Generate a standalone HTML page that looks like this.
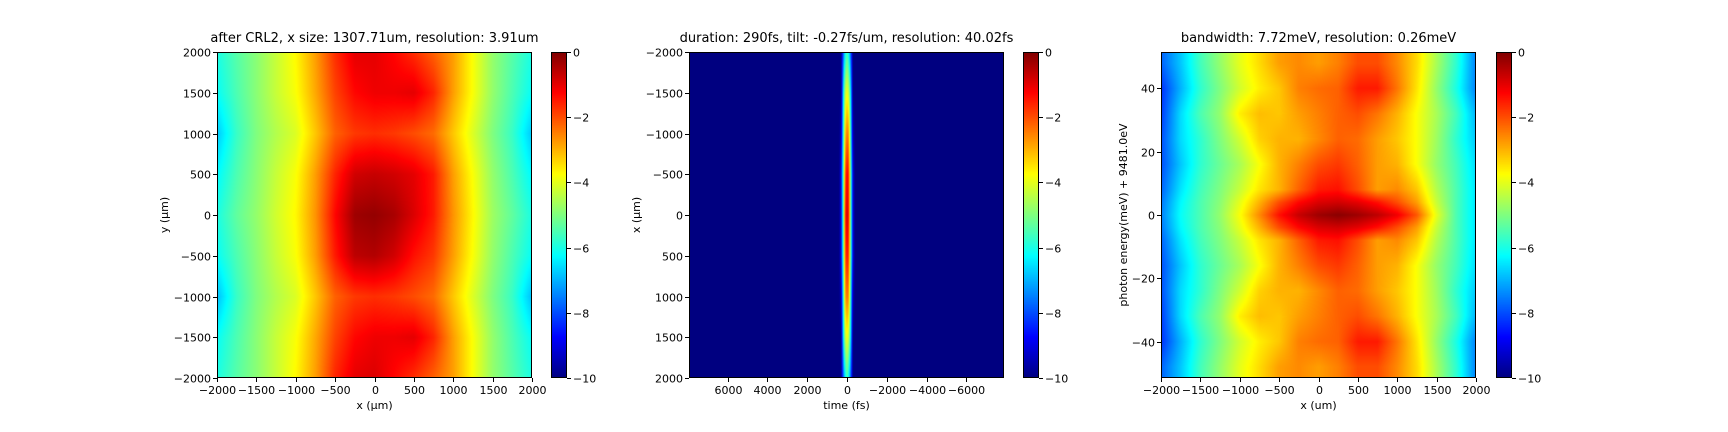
<!DOCTYPE html>
<html><head><meta charset="utf-8">
<style>
html,body{margin:0;padding:0;background:#fff;}
#wrap{position:relative;width:1728px;height:432px;overflow:hidden;background:#fff;font-family:"DejaVu Sans","Liberation Sans",sans-serif;}
canvas{position:absolute;}
svg{position:absolute;left:0;top:0;}
</style></head>
<body>
<div id="wrap">
<canvas id="c1"></canvas>
<canvas id="c2"></canvas>
<canvas id="c3"></canvas>
<canvas id="cb1"></canvas>
<canvas id="cb2"></canvas>
<canvas id="cb3"></canvas>
<svg id="ov" width="1728" height="432"></svg>
</div>
<script>
// ---------- Panel 1 data: y rows (um), x cols (um), log intensity ----------
const p1Cols=[-2000,-1750,-1500,-1250,-1000,-750,-500,-250,0,250,500,750,1000,1250,1500,1750,2000];
const p1Rows=[2000,1500,1000,500,0,-500,-1000,-1500,-2000];
const p1Vals=[
[-6.0,-5.4,-4.9,-4.3,-3.7,-2.8,-1.7,-1.0,-1.0,-1.3,-1.7,-2.2,-2.8,-3.8,-4.8,-5.4,-6.0],
[-6.2,-5.5,-4.9,-4.3,-3.8,-2.9,-1.9,-1.3,-1.1,-1.1,-1.0,-1.6,-2.8,-3.8,-4.8,-5.5,-6.2],
[-6.8,-5.7,-5.0,-4.5,-4.1,-3.2,-2.2,-1.8,-1.7,-1.8,-2.0,-2.3,-3.2,-4.1,-5.0,-5.7,-6.8],
[-6.3,-5.5,-4.9,-4.3,-3.8,-2.8,-1.6,-0.8,-0.7,-0.8,-1.0,-1.5,-2.8,-3.8,-4.8,-5.5,-6.3],
[-6.0,-5.3,-4.8,-4.2,-3.7,-2.7,-1.3,-0.3,-0.2,-0.4,-0.9,-1.5,-2.7,-3.7,-4.7,-5.3,-6.0],
[-6.2,-5.5,-4.9,-4.3,-3.8,-2.8,-1.5,-0.6,-0.5,-0.8,-1.4,-1.8,-2.8,-3.8,-4.8,-5.5,-6.2],
[-6.9,-5.7,-5.0,-4.5,-4.1,-3.2,-2.2,-1.8,-1.7,-1.8,-2.0,-2.3,-3.2,-4.1,-5.0,-5.7,-6.9],
[-6.2,-5.5,-4.9,-4.3,-3.8,-2.9,-1.9,-1.3,-1.1,-1.1,-1.0,-1.6,-2.8,-3.8,-4.8,-5.5,-6.2],
[-6.0,-5.4,-4.9,-4.3,-3.7,-2.8,-1.6,-1.0,-0.9,-1.3,-1.7,-2.2,-2.8,-3.8,-4.8,-5.4,-6.0]];
const p1XTicks=[-2000,-1500,-1000,-500,0,500,1000,1500,2000];
const p1YTicks=[2000,1500,1000,500,0,-500,-1000,-1500,-2000];

// ---------- Panel 2 data: time cols (fs), x rows (um) ----------
const p2Cols=[400,300,200,100,0,-100,-200,-300,-400];
const p2Rows=[-2000,-1500,-1000,-500,0,500,1000,1500,2000];
const p2Vals=[
[-10,-10,-8.0,-6.5,-5.5,-6.5,-8.0,-10,-10],
[-10,-10,-7.0,-4.5,-3.8,-4.5,-7.0,-10,-10],
[-10,-9.5,-6.5,-3.5,-2.3,-3.0,-6.5,-9.5,-10],
[-10,-9,-6.0,-2.5,-1.0,-2.0,-6.0,-9,-10],
[-10,-9,-6.0,-2.0,-0.6,-1.8,-6.0,-9,-10],
[-10,-9,-6.0,-2.5,-1.2,-2.2,-6.0,-9,-10],
[-10,-9.5,-6.5,-3.2,-2.2,-3.0,-6.5,-9.5,-10],
[-10,-10,-7.0,-4.5,-3.8,-4.5,-7.0,-10,-10],
[-10,-10,-8.0,-6.5,-5.5,-6.5,-8.0,-10,-10]];
const p2XTicks=[6000,4000,2000,0,-2000,-4000,-6000];
const p2YTicks=[-2000,-1500,-1000,-500,0,500,1000,1500,2000];

// ---------- Panel 3 data: x cols (um), energy rows (meV) ----------
const p3Cols=[-2000,-1750,-1500,-1250,-1000,-750,-500,-250,0,250,500,750,1000,1250,1500,1750,2000];
const p3Rows=[48,40,32,24,16,8,4,0,-4,-8,-16,-24,-32,-40,-48];
const p3Vals=[
[-7.8,-6.8,-5.6,-4.8,-4.0,-3.4,-2.8,-2.6,-2.8,-2.5,-2.0,-2.0,-2.6,-3.4,-4.6,-5.8,-7.5],
[-8.3,-7.0,-5.8,-5.0,-4.2,-3.6,-3.2,-2.5,-2.3,-2.2,-1.5,-1.5,-2.4,-3.5,-4.8,-6.0,-7.5],
[-8.2,-6.6,-5.5,-4.8,-3.6,-3.1,-3.2,-2.8,-2.5,-2.2,-2.0,-2.4,-3.0,-3.8,-4.6,-5.6,-7.0],
[-8.0,-6.6,-5.8,-5.0,-4.2,-3.3,-3.0,-3.0,-2.6,-2.2,-2.3,-2.8,-3.2,-3.8,-4.7,-5.8,-6.8],
[-8.0,-6.8,-5.8,-5.2,-4.6,-3.8,-3.0,-2.5,-2.0,-1.8,-2.2,-2.8,-3.0,-3.8,-4.8,-5.6,-6.6],
[-7.8,-6.5,-5.6,-5.0,-4.3,-3.5,-3.0,-2.2,-1.5,-1.4,-2.0,-2.8,-2.6,-3.2,-4.5,-5.5,-6.5],
[-7.6,-6.3,-5.5,-4.9,-4.0,-3.0,-2.0,-1.3,-0.9,-0.8,-1.0,-1.4,-2.0,-2.8,-4.3,-5.5,-6.5],
[-7.5,-6.2,-5.5,-4.8,-3.8,-2.6,-1.4,-0.7,-0.3,-0.1,-0.3,-0.6,-1.1,-2.1,-4.0,-5.5,-6.5],
[-7.6,-6.3,-5.5,-4.9,-4.0,-3.0,-2.0,-1.3,-0.9,-0.8,-1.0,-1.4,-2.0,-2.8,-4.3,-5.5,-6.5],
[-7.8,-6.5,-5.6,-5.0,-4.3,-3.5,-3.0,-2.2,-1.5,-1.4,-2.0,-2.8,-2.6,-3.2,-4.5,-5.5,-6.5],
[-8.0,-6.8,-5.8,-5.2,-4.6,-3.8,-3.0,-2.5,-2.0,-1.8,-2.2,-2.8,-3.0,-3.8,-4.8,-5.6,-6.6],
[-8.0,-6.6,-5.8,-5.0,-4.2,-3.3,-3.0,-3.0,-2.6,-2.2,-2.3,-2.8,-3.2,-3.8,-4.7,-5.8,-6.8],
[-8.2,-6.6,-5.5,-4.8,-3.6,-3.1,-3.2,-2.8,-2.5,-2.2,-2.0,-2.4,-3.0,-3.8,-4.6,-5.6,-7.0],
[-8.3,-7.0,-5.8,-5.0,-4.2,-3.6,-3.2,-2.5,-2.3,-2.2,-1.5,-1.5,-2.4,-3.5,-4.8,-6.0,-7.5],
[-7.8,-6.8,-5.6,-4.8,-4.0,-3.4,-2.8,-2.6,-2.8,-2.5,-2.0,-2.0,-2.6,-3.4,-4.6,-5.8,-7.5]];
const p3XTicks=[-2000,-1500,-1000,-500,0,500,1000,1500,2000];
const p3YTicks=[40,20,0,-20,-40];
const cbTicks=[0,-2,-4,-6,-8,-10];

const T=52,B=378,H=B-T;
function lin(d0,d1,r0,r1){const f=v=>r0+(v-d0)/(d1-d0)*(r1-r0);f.inv=p=>d0+(p-r0)/(r1-r0)*(d1-d0);return f;}
const panels=[
 {id:'c1',L:217,R:532,xs:lin(-2000,2000,217,532),ys:lin(2000,-2000,T,B),cols:p1Cols,rows:p1Rows,vals:p1Vals},
 {id:'c2',L:689,R:1004,xs:lin(0,-1000,847,866.9),ys:lin(-2000,2000,T,B),cols:p2Cols,rows:p2Rows,vals:p2Vals},
 {id:'c3',L:1161,R:1476,xs:lin(-2000,2000,1161,1476),ys:lin(51.5,-51.5,T,B),cols:p3Cols,rows:p3Rows,vals:p3Vals}];
function seg(arr,v){const n=arr.length;const asc=arr[n-1]>arr[0];
 if(asc?v<=arr[0]:v>=arr[0])return[0,0];
 if(asc?v>=arr[n-1]:v<=arr[n-1])return[n-2,1];
 for(let i=0;i<n-1;i++){const a=arr[i],b=arr[i+1];if(asc?(v>=a&&v<=b):(v<=a&&v>=b))return[i,(v-a)/(b-a)];}return[0,0];}
function jet(v){let t=Math.max(0,Math.min(1,(v+10)/10));const c=x=>Math.round(255*Math.max(0,Math.min(1,x)));
 return[c(1.5-Math.abs(4*t-3)),c(1.5-Math.abs(4*t-2)),c(1.5-Math.abs(4*t-1))];}
panels.forEach(p=>{const cv=document.getElementById(p.id);const w=p.R-p.L;
 cv.width=w;cv.height=H;cv.style.left=p.L+'px';cv.style.top=T+'px';
 const ctx=cv.getContext('2d');const im=ctx.createImageData(w,H);
 for(let j=0;j<H;j++){const yv=p.ys.inv(T+j+0.5);const[ri,rf]=seg(p.rows,yv);
  for(let i=0;i<w;i++){const xv=p.xs.inv(p.L+i+0.5);const[ci,cf]=seg(p.cols,xv);
   const v00=p.vals[ri][ci],v01=p.vals[ri][ci+1],v10=p.vals[ri+1][ci],v11=p.vals[ri+1][ci+1];
   const v=(v00*(1-cf)+v01*cf)*(1-rf)+(v10*(1-cf)+v11*cf)*rf;
   const col=jet(v);const k=(j*w+i)*4;im.data[k]=col[0];im.data[k+1]=col[1];im.data[k+2]=col[2];im.data[k+3]=255;}}
 ctx.putImageData(im,0,0);});
const cbs=[{id:'cb1',L:551},{id:'cb2',L:1023},{id:'cb3',L:1496}];
cbs.forEach(c=>{const cv=document.getElementById(c.id);cv.width=16;cv.height=H;cv.style.left=c.L+'px';cv.style.top=T+'px';
 const ctx=cv.getContext('2d');for(let j=0;j<H;j++){const col=jet(-10*(j+0.5)/H);ctx.fillStyle='rgb('+col+')';ctx.fillRect(0,j,16,1);}});

const NS='http://www.w3.org/2000/svg';const ov=document.getElementById('ov');
function el(tag,attrs,txt){const e=document.createElementNS(NS,tag);for(const k in attrs)e.setAttribute(k,attrs[k]);if(txt!==undefined)e.textContent=txt;ov.appendChild(e);return e;}
function fmt(v){return v<0?'\u2212'+Math.abs(v):String(v);}
function frame(L,R,name){const r=el('rect',{x:L+0.5,y:T+0.5,width:R-L-1,height:H-1,fill:'none',stroke:'#000','stroke-width':1});
 
 }
function xt(sc,ticks,name){ticks.forEach(v=>{const x=Math.round(sc(v))+0.5;el('line',{x1:x,x2:x,y1:B,y2:B+4,stroke:'#000'});
 const t=el('text',{x:x,y:B+16,'font-size':11,'text-anchor':'middle',fill:'#000'},fmt(v));
 
 });}
function yt(sc,L,ticks,name){ticks.forEach(v=>{const y=Math.round(sc(v))+0.5;el('line',{x1:L-4,x2:L,y1:y,y2:y,stroke:'#000'});
 const t=el('text',{x:L-6,y:y+4,'font-size':11,'text-anchor':'end',fill:'#000'},fmt(v));
 
 });}
function label(x,y,txt,rot,name,size){const a={x:x,y:y,'font-size':size||11,'text-anchor':'middle',fill:'#000'};if(rot)a.transform='rotate(-90 '+x+' '+y+')';
 const t=el('text',a,txt);
 
 }
frame(217,532,'plot1-frame');xt(panels[0].xs,p1XTicks,'x-tick-label');yt(panels[0].ys,217,p1YTicks,'y-tick-label');
label(374.5,42,'after CRL2, x size: 1307.71um, resolution: 3.91um',false,'title-1',13);
label(374.5,409,'x (\u03bcm)',false,'x-axis-title-1');label(168,215,'y (\u03bcm)',true,'y-axis-title-1');
frame(689,1004,'plot2-frame');xt(panels[1].xs,p2XTicks,'x-tick-label');yt(panels[1].ys,689,p2YTicks,'y-tick-label');
label(846.5,42,'duration: 290fs, tilt: -0.27fs/um, resolution: 40.02fs',false,'title-2',13);
label(846.5,409,'time (fs)',false,'x-axis-title-2');label(640,215,'x (\u03bcm)',true,'y-axis-title-2');
frame(1161,1476,'plot3-frame');xt(panels[2].xs,p3XTicks,'x-tick-label');yt(panels[2].ys,1161,p3YTicks,'y-tick-label');
label(1318.5,42,'bandwidth: 7.72meV, resolution: 0.26meV',false,'title-3',13);
label(1318.5,409,'x (um)',false,'x-axis-title-3');label(1127,215,'photon energy(meV) + 9481.0eV',true,'y-axis-title-3');
cbs.forEach((c,i)=>{frame(c.L,c.L+16,'colorbar-frame-'+(i+1));const sc=lin(0,-10,T,B);
 cbTicks.forEach(v=>{const y=Math.round(sc(v))+0.5;el('line',{x1:c.L+16,x2:c.L+20,y1:y,y2:y,stroke:'#000'});
  const t=el('text',{x:c.L+22,y:y+4,'font-size':11,fill:'#000'},fmt(v));
  
  });});
</script>
</body></html>
